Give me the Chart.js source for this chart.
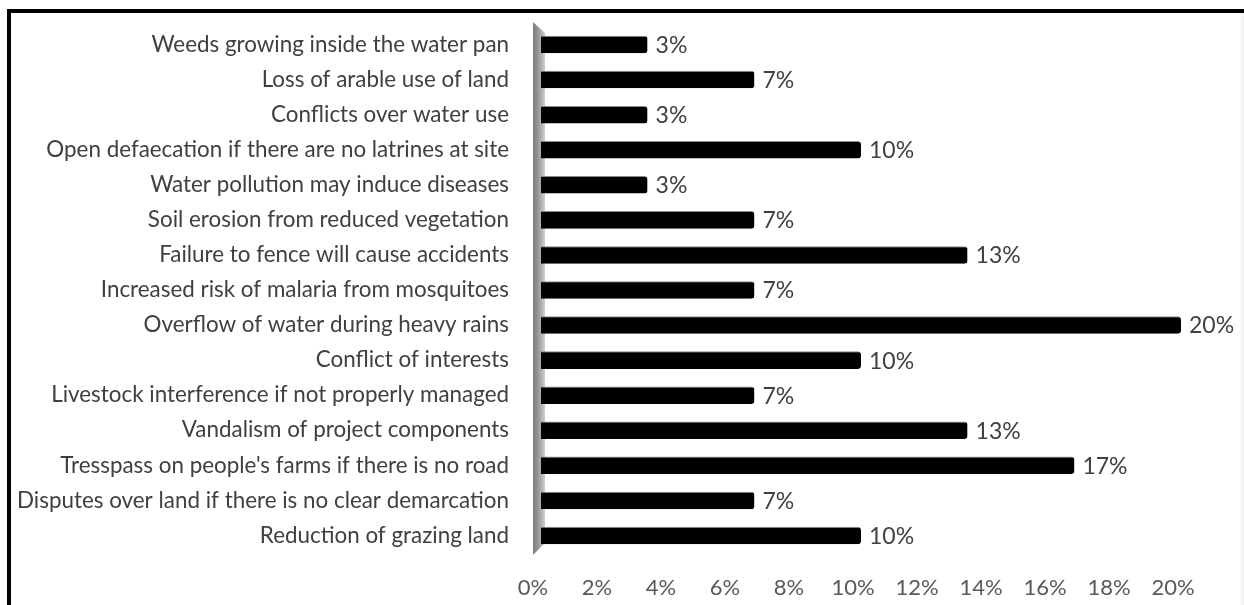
<!DOCTYPE html>
<html>
<head>
<meta charset="utf-8">
<script src="https://cdn.jsdelivr.net/npm/chart.js@4/dist/chart.umd.min.js"></script>
<style>
  html, body { margin: 0; padding: 0; background: #fff; }
  #wrap { position: relative; width: 1244px; height: 605px; overflow: hidden; }
  #frame { position: absolute; left: 7px; top: 9px; width: 1240px; height: 600px;
           border-top: 4px solid #000; border-left: 4px solid #000; box-sizing: border-box; }
  #edge { position: absolute; left: 1240px; top: 13px; width: 4px; height: 592px;
          background: linear-gradient(to right, #fafafa, #efefef); }
  canvas { position: absolute; left: 0; top: 0; }
</style>
</head>
<body>
<div id="wrap">
  <div id="frame"></div>
  <div id="edge"></div>
  <canvas id="c" width="1244" height="605"></canvas>
</div>
<script>
// Reported impacts of water pans (share of 30 respondents, %)
const categories = [
  "Weeds growing inside the water pan",
  "Loss of arable use of land",
  "Conflicts over water use",
  "Open defaecation if there are no latrines at site",
  "Water pollution may induce diseases",
  "Soil erosion from reduced vegetation",
  "Failure to fence will cause accidents",
  "Increased risk of malaria from mosquitoes",
  "Overflow of water during heavy rains",
  "Conflict of interests",
  "Livestock interference if not properly managed",
  "Vandalism of project components",
  "Tresspass on people's farms if there is no road",
  "Disputes over land if there is no clear demarcation",
  "Reduction of grazing land"
];
const shares = [3.33, 6.67, 3.33, 10, 3.33, 6.67, 13.33, 6.67, 20, 10, 6.67, 13.33, 16.67, 6.67, 10];
const xTicks = [0, 2, 4, 6, 8, 10, 12, 14, 16, 18, 20];

const FONT = "Lato";

// grey 3D wall standing behind the category axis
const wallPlugin = {
  id: 'wall',
  beforeDatasetsDraw(chart) {
    const { ctx, chartArea, scales } = chart;
    const x0 = scales.x.getPixelForValue(0);
    const t = chartArea.top, b = chartArea.bottom;
    ctx.save();
    const g = ctx.createLinearGradient(x0 - 8, 0, x0 + 4, 0);
    g.addColorStop(0, '#7a7a7a');
    g.addColorStop(0.4, '#959595');
    g.addColorStop(1, '#cfcfcf');
    ctx.fillStyle = g;
    ctx.beginPath();
    ctx.moveTo(x0 - 8, t - 5);
    ctx.lineTo(x0 + 4, t + 6);
    ctx.lineTo(x0 + 4, b - 10);
    ctx.lineTo(x0 - 8, b + 2);
    ctx.closePath();
    ctx.fill();
    ctx.restore();
  }
};

// value labels at the end of each bar
const valueLabels = {
  id: 'valueLabels',
  afterDatasetsDraw(chart) {
    const { ctx } = chart;
    const meta = chart.getDatasetMeta(0);
    ctx.save();
    ctx.font = `23px ${FONT}`;
    ctx.fillStyle = '#404040';
    ctx.textAlign = 'left';
    ctx.textBaseline = 'middle';
    meta.data.forEach((bar, i) => {
      ctx.fillText(Math.round(shares[i]) + '%', bar.x + 8, bar.y + 1);
    });
    ctx.restore();
  }
};

new Chart(document.getElementById('c'), {
  type: 'bar',
  data: {
    labels: categories,
    datasets: [{
      data: shares,
      backgroundColor: '#000',
      borderColor: '#8c8c8c',
      borderWidth: { top: 1, right: 0, bottom: 0, left: 0 },
      borderSkipped: 'start',
      borderRadius: { topRight: 3, bottomRight: 3, topLeft: 0, bottomLeft: 0 },
      categoryPercentage: 1,
      barPercentage: 0.5
    }]
  },
  options: {
    indexAxis: 'y',
    responsive: false,
    animation: false,
    devicePixelRatio: 1,
    layout: { padding: { top: 27, right: 63, bottom: 0, left: 0 } },
    plugins: { legend: { display: false }, tooltip: { enabled: false } },
    scales: {
      x: {
        min: 0, max: 20,
        afterBuildTicks(s) { s.ticks = xTicks.map(v => ({ value: v })); },
        afterFit(s) { s.height = 52; s.paddingLeft = 0; s.paddingRight = 0; },
        grid: { display: false, drawTicks: false },
        border: { display: false },
        ticks: {
          callback: v => v + '%',
          labelOffset: -8,
          padding: 22,
          color: '#595959',
          font: { family: FONT, size: 22 }
        }
      },
      y: {
        afterFit(s) { s.width = 541; s.paddingTop = 0; s.paddingBottom = 0; },
        grid: { display: false, drawTicks: false },
        border: { display: false },
        ticks: {
          padding: 32,
          color: '#404040',
          font: { family: FONT, size: 22.4 }
        }
      }
    }
  },
  plugins: [wallPlugin, valueLabels]
});
</script>
</body>
</html>
